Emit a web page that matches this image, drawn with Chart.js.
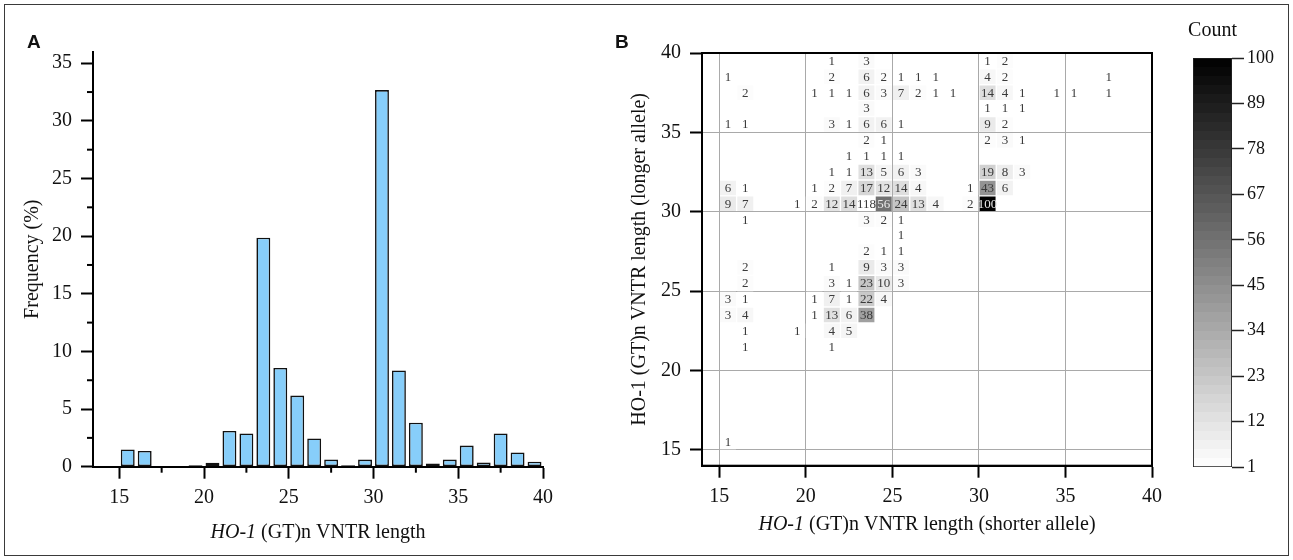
<!DOCTYPE html>
<html><head><meta charset="utf-8">
<script src="https://cdn.jsdelivr.net/npm/chart.js@4.4.0/dist/chart.umd.min.js"></script>
<style>
html,body{margin:0;padding:0;background:#fff;}
#wrap{position:relative;width:1293px;height:560px;overflow:hidden;background:#fff;}
.box{position:absolute;}
#frame{position:absolute;left:4px;top:4px;width:1285px;height:552px;border:1.5px solid #3a3a3a;box-sizing:border-box;pointer-events:none;}
.plabel{position:absolute;font-family:"Liberation Sans",Arial,sans-serif;font-weight:bold;font-size:19px;color:#111;line-height:19px;}
</style></head>
<body><div id="wrap">
<div class="box" style="left:0;top:0;width:600px;height:560px"><canvas id="cA" width="600" height="560"></canvas></div>
<div class="box" style="left:600px;top:0;width:580px;height:560px"><canvas id="cB" width="580" height="560"></canvas></div>
<div class="box" style="left:1150px;top:0;width:143px;height:560px"><canvas id="cC" width="143" height="560"></canvas></div>
<div id="frame"></div>
<div class="plabel" style="left:27px;top:32px">A</div>
<div class="plabel" style="left:615px;top:32px">B</div>
</div>
<script>
const SERIF = '"Liberation Serif","Times New Roman",serif';

// ---------- Panel A data ----------
const allelesA = [15,16,17,18,19,20,21,22,23,24,25,26,27,28,29,30,31,32,33,34,35,36,37,38,39];
const freqA    = [1.49,1.37,0,0,0.12,0.34,3.10,2.89,19.86,8.56,6.17,2.45,0.62,0.12,0.62,32.67,8.35,3.82,0.28,0.62,1.83,0.37,2.89,1.24,0.43];
const xTicksA = [15,20,25,30,35,40];
const yTicksA = [0,5,10,15,20,25,30,35];
const xMinorA = [17.5,22.5,27.5,32.5,37.5];
const yMinorA = [2.5,7.5,12.5,17.5,22.5,27.5,32.5];

// ---------- Panel B data (shorter allele, longer allele, count) ----------
const cellShort = [
  21,23,30,31,
  15,21,23,24,25,26,27,30,31,37,
  16,20,21,22,23,24,25,26,27,28,30,31,32,34,35,37,
  23,30,31,32,
  15,16,21,22,23,24,25,30,31,
  23,24,30,31,32,
  22,23,24,25,
  21,22,23,24,25,26,30,31,32,
  15,16,20,21,22,23,24,25,26,29,30,31,
  15,16,19,20,21,22,23,24,25,26,27,29,30,
  16,23,24,25,
  25,
  23,24,25,
  16,21,23,24,25,
  16,21,22,23,24,25,
  15,16,20,21,22,23,24,
  15,16,20,21,22,23,
  16,19,21,22,
  16,21,
  15
];
const cellLong = [
  39,39,39,39,
  38,38,38,38,38,38,38,38,38,38,
  37,37,37,37,37,37,37,37,37,37,37,37,37,37,37,37,
  36,36,36,36,
  35,35,35,35,35,35,35,35,35,
  34,34,34,34,34,
  33,33,33,33,
  32,32,32,32,32,32,32,32,32,
  31,31,31,31,31,31,31,31,31,31,31,31,
  30,30,30,30,30,30,30,30,30,30,30,30,30,
  29,29,29,29,
  28,
  27,27,27,
  26,26,26,26,26,
  25,25,25,25,25,25,
  24,24,24,24,24,24,24,
  23,23,23,23,23,23,
  22,22,22,22,
  21,21,
  15
];
const cellCount = [
  1,3,1,2,
  1,2,6,2,1,1,1,4,2,1,
  2,1,1,1,6,3,7,2,1,1,14,4,1,1,1,1,
  3,1,1,1,
  1,1,3,1,6,6,1,9,2,
  2,1,2,3,1,
  1,1,1,1,
  1,1,13,5,6,3,19,8,3,
  6,1,1,2,7,17,12,14,4,1,43,6,
  9,7,1,2,12,14,118,56,24,13,4,2,100,
  1,3,2,1,
  1,
  2,1,1,
  2,1,9,3,3,
  2,3,1,23,10,3,
  3,1,1,7,1,22,4,
  3,4,1,13,6,38,
  1,1,4,5,
  1,1,
  1
];
const ticksB = [15,20,25,30,35,40];
const cbTicks = [1,12,23,34,45,56,67,78,89,100];
const cbMin = 1, cbMax = 100;

function greyFor(v){
  if (v > cbMax) return '#ffffff';
  const t = Math.max(0, Math.min(1, (v - cbMin) / (cbMax - cbMin)));
  const g = Math.round(255 * (1 - t));
  return 'rgb(' + g + ',' + g + ',' + g + ')';
}

// ---------- shared plugins ----------
const minorTicks = {
  id: 'minorTicks',
  afterDraw(chart, args, opts) {
    const ctx = chart.ctx, a = chart.chartArea;
    ctx.save();
    ctx.strokeStyle = '#000'; ctx.lineWidth = 2;
    (opts.x || []).forEach(v => {
      const px = chart.scales.x.getPixelForValue(v);
      ctx.beginPath(); ctx.moveTo(px, a.bottom); ctx.lineTo(px, a.bottom + opts.len); ctx.stroke();
    });
    (opts.y || []).forEach(v => {
      const py = chart.scales.y.getPixelForValue(v);
      ctx.beginPath(); ctx.moveTo(a.left, py); ctx.lineTo(a.left - opts.len, py); ctx.stroke();
    });
    ctx.restore();
  }
};
const mixedTitle = {
  id: 'mixedTitle',
  afterDraw(chart, args, opts) {
    const ctx = chart.ctx, a = chart.chartArea;
    const size = opts.size;
    ctx.save();
    ctx.fillStyle = '#111'; ctx.textBaseline = 'middle'; ctx.textAlign = 'left';
    const fi = 'italic ' + size + 'px ' + SERIF, fn = size + 'px ' + SERIF;
    ctx.font = fi; const w1 = ctx.measureText(opts.italic).width;
    ctx.font = fn; const w2 = ctx.measureText(opts.rest).width;
    const x0 = (a.left + a.right) / 2 - (w1 + w2) / 2;
    ctx.font = fi; ctx.fillText(opts.italic, x0, opts.y);
    ctx.font = fn; ctx.fillText(opts.rest, x0 + w1, opts.y);
    ctx.restore();
  }
};

// ---------- Chart A ----------
new Chart(document.getElementById('cA'), {
  type: 'bar',
  data: { datasets: [{
    data: allelesA.map((L, i) => ({ x: L + 0.5, y: freqA[i] > 0 ? freqA[i] : null })),
    backgroundColor: '#87CEFA', borderColor: '#111', borderWidth: 1.6, borderSkipped: false,
    barPercentage: 0.82, categoryPercentage: 1
  }]},
  options: {
    responsive: false, animation: false, devicePixelRatio: 1,
    layout: { padding: { left: 0, top: 51.7, right: 57, bottom: 0 } },
    plugins: { legend: { display: false }, tooltip: { enabled: false },
      minorTicks: { x: xMinorA, y: yMinorA, len: 6 },
      mixedTitle: { italic: 'HO-1', rest: ' (GT)n VNTR length', y: 533, size: 20 } },
    scales: {
      x: { type: 'linear', min: 13.45, max: 40, offset: false,
        afterBuildTicks: s => { s.ticks = xTicksA.map(v => ({ value: v })); },
        afterFit: s => { s.height = 93.3; },
        grid: { offset: false, drawOnChartArea: false, tickLength: 12, tickWidth: 2, tickColor: '#000' },
        border: { color: '#000', width: 2 },
        ticks: { font: { family: SERIF, size: 20 }, color: '#111', padding: 7, maxRotation: 0 } },
      y: { min: 0, max: 36,
        afterBuildTicks: s => { s.ticks = yTicksA.map(v => ({ value: v })); },
        afterFit: s => { s.width = 93; },
        grid: { drawOnChartArea: false, tickLength: 12, tickWidth: 2, tickColor: '#000' },
        border: { color: '#000', width: 2 },
        ticks: { font: { family: SERIF, size: 20 }, color: '#111', padding: 9 },
        title: { display: true, text: 'Frequency (%)', color: '#111', font: { family: SERIF, size: 20 }, padding: { top: 21 } } }
    }
  },
  plugins: [minorTicks, mixedTitle]
});

// ---------- Chart B ----------
const frame = {
  id: 'frame',
  afterDraw(chart) {
    const ctx = chart.ctx, a = chart.chartArea;
    ctx.save(); ctx.strokeStyle = '#000'; ctx.lineWidth = 2;
    ctx.strokeRect(a.left, a.top, a.right - a.left, a.bottom - a.top);
    ctx.restore();
  }
};
const cellLabels = {
  id: 'cellLabels',
  afterDatasetsDraw(chart) {
    const ctx = chart.ctx;
    const meta = chart.getDatasetMeta(0);
    ctx.save();
    ctx.font = '13px ' + SERIF; ctx.textAlign = 'center'; ctx.textBaseline = 'middle';
    meta.data.forEach((el, i) => {
      const n = cellCount[i];
      ctx.fillStyle = (n > 50 && n <= cbMax) ? '#e8e8e8' : '#3a3a3a';
      ctx.fillText(String(n), el.x, (el.y + el.base) / 2 + 0.5);
    });
    ctx.restore();
  }
};
new Chart(document.getElementById('cB'), {
  type: 'bar',
  data: { datasets: [{
    data: cellShort.map((s, i) => ({ x: s + 0.5, y: [cellLong[i], cellLong[i] + 1] })),
    backgroundColor: c => greyFor(cellCount[c.dataIndex]),
    borderColor: 'rgba(255,255,255,0)', borderWidth: 1, borderSkipped: false,
    barPercentage: 1, categoryPercentage: 1
  }]},
  options: {
    responsive: false, animation: false, devicePixelRatio: 1,
    layout: { padding: { left: 0, top: 53, right: 28, bottom: 0 } },
    plugins: { legend: { display: false }, tooltip: { enabled: false },
      mixedTitle: { italic: 'HO-1', rest: ' (GT)n VNTR length (shorter allele)', y: 525, size: 20 } },
    scales: {
      x: { type: 'linear', min: 14, max: 40, offset: false,
        afterBuildTicks: s => { s.ticks = ticksB.map(v => ({ value: v })); },
        afterFit: s => { s.height = 94.3; },
        grid: { offset: false, color: '#a9a9a9', lineWidth: 1, tickLength: 12, tickWidth: 2, tickColor: '#000' },
        border: { color: '#000', width: 2 },
        ticks: { font: { family: SERIF, size: 20 }, color: '#111', padding: 7, maxRotation: 0 } },
      y: { min: 14, max: 40,
        afterBuildTicks: s => { s.ticks = ticksB.map(v => ({ value: v })); },
        afterFit: s => { s.width = 102; },
        grid: { color: '#a9a9a9', lineWidth: 1, tickLength: 12, tickWidth: 2, tickColor: '#000' },
        border: { color: '#000', width: 2 },
        ticks: { font: { family: SERIF, size: 20 }, color: '#111', padding: 9 },
        title: { display: true, text: 'HO-1 (GT)n VNTR length (longer allele)', color: '#111', font: { family: SERIF, size: 20 }, padding: { top: 28 } } }
    }
  },
  plugins: [frame, cellLabels, mixedTitle]
});

// ---------- Colour bar ----------
const cbTitle = {
  id: 'cbTitle',
  afterDraw(chart) {
    const ctx = chart.ctx, a = chart.chartArea;
    ctx.save(); ctx.fillStyle = '#111'; ctx.font = '20px ' + SERIF;
    ctx.textAlign = 'center'; ctx.textBaseline = 'middle';
    ctx.fillText('Count', (a.left + a.right) / 2, 31);
    ctx.restore();
  }
};
function cbGradient(c) {
  const a = c.chart.chartArea;
  if (!a) return '#888';
  const y = c.chart.scales.y;
  const g = c.chart.ctx.createLinearGradient(0, y.getPixelForValue(cbMin), 0, y.getPixelForValue(cbMax));
  const steps = 45;
  for (let k = 0; k < steps; k++) {
    const v = cbMin + (cbMax - cbMin) * (k + 0.5) / steps;
    g.addColorStop(k / steps, greyFor(v));
    g.addColorStop((k + 1) / steps, greyFor(v));
  }
  return g;
}
new Chart(document.getElementById('cC'), {
  type: 'bar',
  data: { labels: ['Count'], datasets: [{
    data: [[cbMin, cbMax]], backgroundColor: cbGradient,
    borderColor: '#222', borderWidth: 1.2, borderSkipped: false,
    barPercentage: 1, categoryPercentage: 1
  }]},
  options: {
    responsive: false, animation: false, devicePixelRatio: 1,
    layout: { padding: { left: 43, top: 58, right: 0, bottom: 93 } },
    plugins: { legend: { display: false }, tooltip: { enabled: false } },
    scales: {
      x: { display: false },
      y: { position: 'right', min: cbMin, max: cbMax,
        afterBuildTicks: s => { s.ticks = cbTicks.map(v => ({ value: v })); },
        afterFit: s => { s.width = 61; },
        grid: { drawOnChartArea: false, tickLength: 12, tickWidth: 1.5, tickColor: '#222' },
        border: { display: false },
        ticks: { font: { family: SERIF, size: 18 }, color: '#111', padding: 3 } }
    }
  },
  plugins: [cbTitle]
});
</script>
</body></html>
